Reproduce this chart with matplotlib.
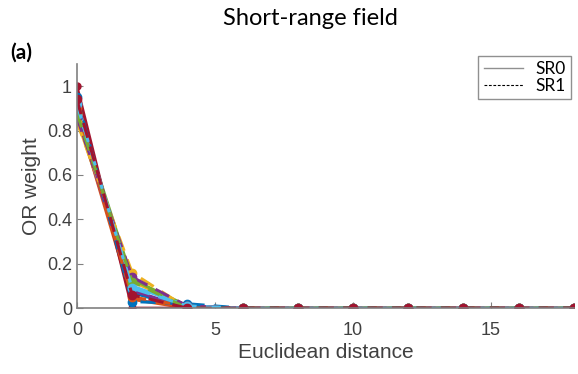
import matplotlib.pyplot as plt
from matplotlib.lines import Line2D

# distances sampled on the lattice
distance = [0, 2, 4, 6, 8, 10, 12, 14, 16, 18]

# MATLAB default line colours, one per run
colors = ['#0072BD', '#D95319', '#EDB120', '#7E2F8E', '#77AC30', '#4DBEEE', '#A2142F']

# OR weights for the SR0 runs (solid lines)
sr0_at0 = [0.93, 0.88, 0.85, 0.87, 0.90, 0.91, 1.00]
sr0_at2 = [0.07, 0.04, 0.12, 0.08, 0.13, 0.10, 0.00]
sr0_at4 = [0.00, 0.00, 0.01, 0.00, 0.01, 0.01, 0.00]

# OR weights for the SR1 runs (dashed lines)
sr1_at0 = [0.95, 0.90, 0.84, 0.86, 0.88, 0.92, 0.94]
sr1_at2 = [0.03, 0.05, 0.16, 0.14, 0.12, 0.09, 0.06]
sr1_at4 = [0.02, 0.01, 0.00, 0.01, 0.00, 0.01, 0.00]

tail = [0] * (len(distance) - 3)

fig = plt.figure(figsize=(5.78, 3.74), dpi=100)
ax = fig.add_axes([0.133, 0.176, 0.86, 0.653])

for i, c in enumerate(colors):
    y0 = [sr0_at0[i], sr0_at2[i], sr0_at4[i]] + tail
    ax.plot(distance, y0, '-', color=c, lw=2.2, marker='o', ms=5)
for i, c in enumerate(colors):
    y1 = [sr1_at0[i], sr1_at2[i], sr1_at4[i]] + tail
    ax.plot(distance, y1, '--', color=c, lw=2.2, marker='o', ms=6, dashes=(5, 3))

ax.set_xlim(0, 18)
ax.set_ylim(0, 1.1)
ax.set_xticks([0, 5, 10, 15])
ax.set_yticks([0, 0.2, 0.4, 0.6, 0.8, 1])
ax.set_yticklabels(['0', '0.2', '0.4', '0.6', '0.8', '1'])
ax.spines['top'].set_visible(False)
ax.spines['right'].set_visible(False)
for s in ['left', 'bottom']:
    ax.spines[s].set_color('#808080')
    ax.spines[s].set_linewidth(1.2)
ax.tick_params(direction='in', length=4, color='#808080', labelcolor='#404040',
               labelsize=13)
ax.tick_params(axis='x', pad=10)
for lab in ax.get_xticklabels() + ax.get_yticklabels():
    lab.set_fontfamily('Liberation Sans')
ax.set_xlabel('Euclidean distance', fontsize=15, color='#404040',
              fontfamily='Liberation Sans', labelpad=3)
ax.set_ylabel('OR weight', fontsize=15, color='#404040',
              fontfamily='Liberation Sans', labelpad=4)

fig.text(0.537, 0.95, 'Short-range field', ha='center', va='center',
         fontsize=17, fontfamily='Lato')
fig.text(0.017, 0.86, '(a)', ha='left', va='center', fontsize=15,
         fontweight='bold', fontfamily='Lato')

handles = [Line2D([], [], color='#909090', lw=1),
           Line2D([], [], color='black', lw=0.8, ls='--', dashes=(2.5, 1.5))]
leg = fig.legend(handles, ['SR0', 'SR1'], loc='upper right',
                 bbox_to_anchor=(0.988, 0.85), prop={'family': 'Lato', 'size': 12.5},
                 fancybox=False, framealpha=1, edgecolor='#909090',
                 handlelength=2.3, handletextpad=0.7, borderpad=0.3,
                 labelspacing=0.02, borderaxespad=0)
leg.get_frame().set_linewidth(1)

fig.savefig('out.png', dpi=100)
